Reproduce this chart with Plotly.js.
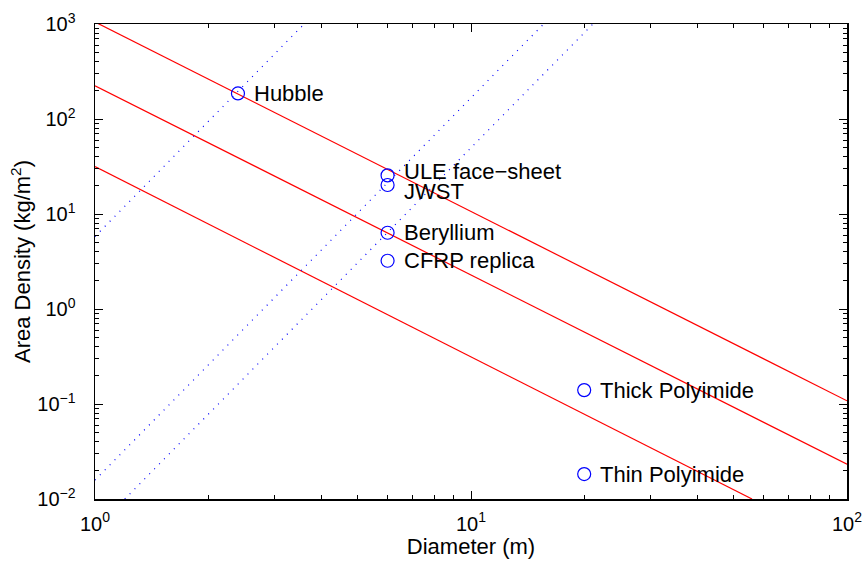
<!DOCTYPE html>
<html>
<head>
<meta charset="utf-8">
<script src="https://cdn.plot.ly/plotly-3.0.1.min.js"></script>
<style>html,body{margin:0;padding:0;background:#fff;}#chart{width:865px;height:565px;}</style>
</head>
<body>
<div id="chart"></div>
<script>
// Telescopes / mirror technologies: diameter (m) vs area density (kg/m^2)
const pointNames = ["Hubble", "ULE face\u2212sheet", "JWST", "Beryllium", "CFRP replica", "Thick Polyimide", "Thin Polyimide"];
const pointDiam = [2.4, 6.0, 6.0, 6.0, 6.0, 20, 20];
const pointDensity = [186, 25.5, 20.2, 6.35, 3.22, 0.140, 0.0183];
const labelYShift = [0, 4, -7, 0, 0, 0, 0];

// Constant-mass lines (density ~ 1/D^2), endpoints read at the plot edges
const red1X = [1, 100];   const red1Y = [1050, 0.108];
const red2X = [1, 100];   const red2Y = [224, 0.0232];
const red3X = [1, 55.9];  const red3Y = [31.5, 0.01];

// Stiffness lines (density ~ D^4) through Hubble, JWST and Beryllium
const blue1X = [1, 3.6];   const blue1Y = [5.8, 1000];
const blue2X = [1, 15.6];  const blue2Y = [0.0158, 1000];
const blue3X = [1.2, 21.1]; const blue3Y = [0.01, 1000];

// Axis ticks
const xTickVals = [1, 10, 100];
const xTickText = ["10<sup>0</sup>", "10<sup>1</sup>", "10<sup>2</sup>"];
const yTickVals = [0.01, 0.1, 1, 10, 100, 1000];
const yTickText = ["10<sup>\u22122</sup>", "10<sup>\u22121</sup>", "10<sup>0</sup>", "10<sup>1</sup>", "10<sup>2</sup>", "10<sup>3</sup>"];

const minorX = [];
[1, 10].forEach(d => { for (let k = 2; k <= 9; k++) minorX.push(k * d); });
const minorY = [];
[0.01, 0.1, 1, 10, 100].forEach(d => { for (let k = 2; k <= 9; k++) minorY.push(k * d); });

const FONT = "Liberation Sans, Arial, Helvetica, sans-serif";
const redLine = {color: "#ff0000", width: 1.2};
const blueLine = {color: "#0000ff", width: 1.2, dash: "1px,6px"};

const traces = [
  {x: red1X, y: red1Y, mode: "lines", line: redLine, hoverinfo: "skip"},
  {x: red2X, y: red2Y, mode: "lines", line: redLine, hoverinfo: "skip"},
  {x: red3X, y: red3Y, mode: "lines", line: redLine, hoverinfo: "skip"},
  {x: blue1X, y: blue1Y, mode: "lines", line: blueLine, hoverinfo: "skip"},
  {x: blue2X, y: blue2Y, mode: "lines", line: blueLine, hoverinfo: "skip"},
  {x: blue3X, y: blue3Y, mode: "lines", line: blueLine, hoverinfo: "skip"},
  {x: pointDiam, y: pointDensity, mode: "markers", text: pointNames,
   marker: {symbol: "circle-open", size: 13, color: "#0000ff", line: {width: 1.2, color: "#0000ff"}}}
];

const annotations = pointNames.map((t, i) => ({
  x: Math.log10(pointDiam[i]), y: Math.log10(pointDensity[i]),
  xref: "x", yref: "y", text: t, showarrow: false,
  xanchor: "left", yanchor: "middle", xshift: 14, yshift: labelYShift[i],
  font: {family: FONT, size: 22, color: "#000"}
}));

const axisCommon = {
  type: "log", showgrid: false, zeroline: false,
  showline: true, linecolor: "#000", linewidth: 1.5, mirror: "ticks",
  ticks: "inside", ticklen: 8, tickwidth: 1, tickcolor: "#000",
  tickfont: {family: FONT, size: 20, color: "#000"},
  tickmode: "array"
};

const layout = {
  width: 865, height: 565,
  margin: {l: 95, r: 18, t: 24, b: 66},
  paper_bgcolor: "#fff", plot_bgcolor: "#fff",
  showlegend: false,
  font: {family: FONT, color: "#000"},
  xaxis: Object.assign({}, axisCommon, {
    range: [0, 2], tickvals: xTickVals, ticktext: xTickText,
    ticklabelstandoff: 6,
    minor: {tickmode: "array", tickvals: minorX, ticks: "inside", ticklen: 4, tickwidth: 1, tickcolor: "#000"},
    title: {text: "Diameter (m)", font: {family: FONT, size: 22, color: "#000"}, standoff: 4}
  }),
  yaxis: Object.assign({}, axisCommon, {
    range: [-2, 3], tickvals: yTickVals, ticktext: yTickText,
    ticklabelstandoff: 14,
    minor: {tickmode: "array", tickvals: minorY, ticks: "inside", ticklen: 4, tickwidth: 1, tickcolor: "#000"},
    title: {text: "Area Density (kg/m<sup>2</sup>)", font: {family: FONT, size: 22, color: "#000"}, standoff: 0}
  }),
  annotations: annotations
};

Plotly.newPlot("chart", traces, layout, {displayModeBar: false, staticPlot: true});
</script>
</body>
</html>
